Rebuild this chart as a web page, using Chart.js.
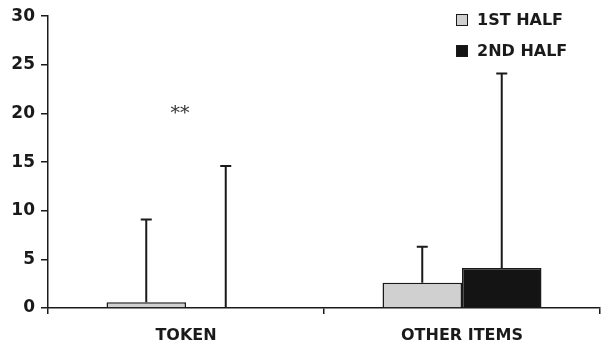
<!DOCTYPE html>
<html>
<head>
<meta charset="utf-8">
<script src="https://cdn.jsdelivr.net/npm/chart.js@4.4.0/dist/chart.umd.min.js"></script>
<style>
  html, body { margin: 0; padding: 0; background: #fff; }
  #wrap { width: 602px; height: 347px; }
</style>
</head>
<body>
<div id="wrap"><canvas id="chart"></canvas></div>
<script>
// Data
const categories = ['TOKEN', 'OTHER ITEMS'];
const firstHalf = [0.6, 2.6];
const secondHalf = [0, 4.1];
const firstHalfErr = [9.1, 6.3];   // top of whisker
const secondHalfErr = [14.6, 24.1];
const seriesNames = ['1ST HALF', '2ND HALF'];
const yTicks = [0, 5, 10, 15, 20, 25, 30];
const starLabel = { text: '**', category: 0, y: 20.0 };

const ink = '#1a1a1a';
const fills = ['#d0d0d0', '#141414'];
const boldFont = '"DejaVu Sans", Verdana, sans-serif';

// Error bars: whisker from bar top up to the upper value
const errorBars = {
  id: 'errorBars',
  afterDatasetsDraw(chart) {
    const ctx = chart.ctx;
    const yScale = chart.scales.y;
    const tops = [firstHalfErr, secondHalfErr];
    ctx.save();
    ctx.strokeStyle = ink;
    ctx.lineWidth = 2;
    chart.data.datasets.forEach((ds, di) => {
      const meta = chart.getDatasetMeta(di);
      meta.data.forEach((bar, i) => {
        const x = bar.x;
        const y0 = yScale.getPixelForValue(ds.data[i]);
        const y1 = yScale.getPixelForValue(tops[di][i]);
        ctx.beginPath();
        ctx.moveTo(x, y0);
        ctx.lineTo(x, y1);
        ctx.moveTo(x - 5.5, y1);
        ctx.lineTo(x + 5.5, y1);
        ctx.stroke();
      });
    });
    // significance mark
    const xs = chart.scales.x;
    const catX = xs.getPixelForValue(starLabel.category);
    ctx.fillStyle = '#333';
    ctx.font = '19px "DejaVu Serif", "Liberation Serif", serif';
    ctx.textAlign = 'center';
    ctx.textBaseline = 'middle';
    ctx.fillText(starLabel.text, catX - 6, yScale.getPixelForValue(starLabel.y) + 1);
    ctx.restore();
  }
};

// Vertical legend at top right
const sideLegend = {
  id: 'sideLegend',
  afterDraw(chart) {
    const ctx = chart.ctx;
    ctx.save();
    ctx.font = 'bold 16px ' + boldFont;
    ctx.textBaseline = 'middle';
    ctx.textAlign = 'left';
    const x0 = 456, ys = [20, 51];
    seriesNames.forEach((name, i) => {
      ctx.fillStyle = fills[i];
      ctx.fillRect(x0, ys[i] - 6, 12, 12);
      ctx.strokeStyle = ink;
      ctx.lineWidth = 1;
      ctx.strokeRect(x0 + 0.5, ys[i] - 5.5, 11, 11);
      ctx.fillStyle = ink;
      ctx.fillText(name, x0 + 21, ys[i] + 1);
    });
    ctx.restore();
  }
};

new Chart(document.getElementById('chart'), {
  type: 'bar',
  data: {
    labels: categories,
    datasets: [
      { label: seriesNames[0], data: firstHalf, backgroundColor: fills[0], borderColor: ink, borderWidth: 1.5 },
      { label: seriesNames[1], data: secondHalf, backgroundColor: fills[1], borderColor: ink, borderWidth: 1.5 }
    ]
  },
  options: {
    responsive: true,
    maintainAspectRatio: false,
    animation: false,
    layout: { padding: { top: 6, right: 2, left: 0, bottom: 0 } },
    datasets: { bar: { categoryPercentage: 0.576, barPercentage: 1.0 } },
    plugins: {
      legend: { display: false },
      tooltip: { enabled: false }
    },
    scales: {
      x: {
        grid: { offset: true, drawOnChartArea: false, drawTicks: true, tickLength: 6, color: ink, lineWidth: 1.5 },
        border: { color: ink, width: 1.5 },
        ticks: {
          color: ink,
          padding: 12,
          font: { family: boldFont, size: 16, weight: 'bold' }
        },
        afterFit(scale) { scale.height = 39; }
      },
      y: {
        min: 0,
        max: 30,
        afterBuildTicks(scale) { scale.ticks = yTicks.map(v => ({ value: v })); },
        grid: { drawOnChartArea: false, drawTicks: true, tickLength: 7, color: ink, lineWidth: 1.5 },
        border: { color: ink, width: 1.5 },
        ticks: {
          color: ink,
          padding: 6,
          font: { family: boldFont, size: 17, weight: 'bold' }
        },
        afterFit(scale) { scale.width = 48; }
      }
    }
  },
  plugins: [errorBars, sideLegend]
});
</script>
</body>
</html>
